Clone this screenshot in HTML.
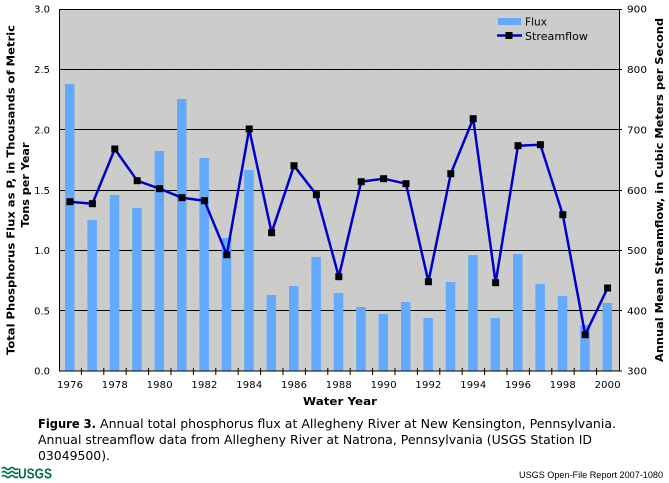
<!DOCTYPE html>
<html><head><meta charset="utf-8"><style>
html,body{margin:0;padding:0;background:#fff;}
svg{display:block;}
</style></head><body>
<svg width="669" height="483" viewBox="0 0 669 483" xmlns="http://www.w3.org/2000/svg">
<rect x="0" y="0" width="669" height="483" fill="#ffffff"/>
<!-- plot area -->
<rect x="59" y="9" width="560" height="362" fill="#cccdcb"/>
<g stroke="#b0b0b0" stroke-width="1" stroke-dasharray="1,10">
<line x1="81.4" y1="9" x2="81.4" y2="371"/><line x1="103.8" y1="9" x2="103.8" y2="371"/><line x1="126.2" y1="9" x2="126.2" y2="371"/><line x1="148.6" y1="9" x2="148.6" y2="371"/><line x1="171" y1="9" x2="171" y2="371"/><line x1="193.4" y1="9" x2="193.4" y2="371"/><line x1="215.8" y1="9" x2="215.8" y2="371"/><line x1="238.2" y1="9" x2="238.2" y2="371"/><line x1="260.6" y1="9" x2="260.6" y2="371"/><line x1="283" y1="9" x2="283" y2="371"/><line x1="305.4" y1="9" x2="305.4" y2="371"/><line x1="327.8" y1="9" x2="327.8" y2="371"/><line x1="350.2" y1="9" x2="350.2" y2="371"/><line x1="372.6" y1="9" x2="372.6" y2="371"/><line x1="395" y1="9" x2="395" y2="371"/><line x1="417.4" y1="9" x2="417.4" y2="371"/><line x1="439.8" y1="9" x2="439.8" y2="371"/><line x1="462.2" y1="9" x2="462.2" y2="371"/><line x1="484.6" y1="9" x2="484.6" y2="371"/><line x1="507" y1="9" x2="507" y2="371"/><line x1="529.4" y1="9" x2="529.4" y2="371"/><line x1="551.8" y1="9" x2="551.8" y2="371"/><line x1="574.2" y1="9" x2="574.2" y2="371"/><line x1="596.6" y1="9" x2="596.6" y2="371"/>
</g>
<!-- gridlines -->
<g stroke="#000" stroke-width="1">
<line x1="59" y1="69.5" x2="622" y2="69.5"/>
<line x1="59" y1="129.5" x2="622" y2="129.5"/>
<line x1="59" y1="190.5" x2="622" y2="190.5"/>
<line x1="59" y1="250.5" x2="622" y2="250.5"/>
<line x1="59" y1="310.5" x2="622" y2="310.5"/>
</g>
<!-- bars -->
<g fill="#63a9fd">
<rect x="65" y="84" width="9.5" height="287"/>
<rect x="87.4" y="220" width="9.5" height="151"/>
<rect x="109.8" y="195" width="9.5" height="176"/>
<rect x="132.2" y="208" width="9.5" height="163"/>
<rect x="154.6" y="151" width="9.5" height="220"/>
<rect x="177" y="99" width="9.5" height="272"/>
<rect x="199.4" y="158" width="9.5" height="213"/>
<rect x="221.8" y="238" width="9.5" height="133"/>
<rect x="244.2" y="170" width="9.5" height="201"/>
<rect x="266.6" y="295" width="9.5" height="76"/>
<rect x="289" y="286" width="9.5" height="85"/>
<rect x="311.4" y="257" width="9.5" height="114"/>
<rect x="333.8" y="293" width="9.5" height="78"/>
<rect x="356.2" y="307" width="9.5" height="64"/>
<rect x="378.6" y="314" width="9.5" height="57"/>
<rect x="401" y="302" width="9.5" height="69"/>
<rect x="423.4" y="318" width="9.5" height="53"/>
<rect x="445.8" y="282" width="9.5" height="89"/>
<rect x="468.2" y="255" width="9.5" height="116"/>
<rect x="490.6" y="318" width="9.5" height="53"/>
<rect x="513" y="254" width="9.5" height="117"/>
<rect x="535.4" y="284" width="9.5" height="87"/>
<rect x="557.8" y="296" width="9.5" height="75"/>
<rect x="580.2" y="325" width="9.5" height="46"/>
<rect x="602.6" y="303" width="9.5" height="68"/>
</g>
<!-- border -->
<rect x="59.5" y="9.5" width="560" height="361.5" fill="none" stroke="#000" stroke-width="1"/>
<line x1="619" y1="9.5" x2="622" y2="9.5" stroke="#000"/>
<line x1="619" y1="371" x2="622" y2="371" stroke="#000"/>
<!-- x ticks -->
<g stroke="#000" stroke-width="1">
<line x1="81.4" y1="368" x2="81.4" y2="375"/><line x1="103.8" y1="368" x2="103.8" y2="375"/><line x1="126.2" y1="368" x2="126.2" y2="375"/><line x1="148.6" y1="368" x2="148.6" y2="375"/><line x1="171" y1="368" x2="171" y2="375"/><line x1="193.4" y1="368" x2="193.4" y2="375"/><line x1="215.8" y1="368" x2="215.8" y2="375"/><line x1="238.2" y1="368" x2="238.2" y2="375"/><line x1="260.6" y1="368" x2="260.6" y2="375"/><line x1="283" y1="368" x2="283" y2="375"/><line x1="305.4" y1="368" x2="305.4" y2="375"/><line x1="327.8" y1="368" x2="327.8" y2="375"/><line x1="350.2" y1="368" x2="350.2" y2="375"/><line x1="372.6" y1="368" x2="372.6" y2="375"/><line x1="395" y1="368" x2="395" y2="375"/><line x1="417.4" y1="368" x2="417.4" y2="375"/><line x1="439.8" y1="368" x2="439.8" y2="375"/><line x1="462.2" y1="368" x2="462.2" y2="375"/><line x1="484.6" y1="368" x2="484.6" y2="375"/><line x1="507" y1="368" x2="507" y2="375"/><line x1="529.4" y1="368" x2="529.4" y2="375"/><line x1="551.8" y1="368" x2="551.8" y2="375"/><line x1="574.2" y1="368" x2="574.2" y2="375"/><line x1="596.6" y1="368" x2="596.6" y2="375"/>
</g>
<!-- streamflow line -->
<polyline fill="none" stroke="#0000cc" stroke-width="2.5" stroke-linejoin="round" points="70,201.7 92.4,203.7 114.8,149 137.2,180.7 159.6,188.7 182,197.7 204.4,200.7 226.8,254.7 249.2,129 271.6,232.7 294,165.7 316.4,194.7 338.8,276.7 361.2,181.7 383.6,178.7 406,183.7 428.4,281.7 450.8,173.7 473.2,118.7 495.6,282.7 518,145.7 540.4,144.7 562.8,214.7 585.2,334.7 607.6,288"/>
<g fill="#000">
<rect x="66.5" y="198.2" width="7" height="7"/><rect x="88.9" y="200.2" width="7" height="7"/><rect x="111.3" y="145.5" width="7" height="7"/><rect x="133.7" y="177.2" width="7" height="7"/><rect x="156.1" y="185.2" width="7" height="7"/><rect x="178.5" y="194.2" width="7" height="7"/><rect x="200.9" y="197.2" width="7" height="7"/><rect x="223.3" y="251.2" width="7" height="7"/><rect x="245.7" y="125.5" width="7" height="7"/><rect x="268.1" y="229.2" width="7" height="7"/><rect x="290.5" y="162.2" width="7" height="7"/><rect x="312.9" y="191.2" width="7" height="7"/><rect x="335.3" y="273.2" width="7" height="7"/><rect x="357.7" y="178.2" width="7" height="7"/><rect x="380.1" y="175.2" width="7" height="7"/><rect x="402.5" y="180.2" width="7" height="7"/><rect x="424.9" y="278.2" width="7" height="7"/><rect x="447.3" y="170.2" width="7" height="7"/><rect x="469.7" y="115.2" width="7" height="7"/><rect x="492.1" y="279.2" width="7" height="7"/><rect x="514.5" y="142.2" width="7" height="7"/><rect x="536.9" y="141.2" width="7" height="7"/><rect x="559.3" y="211.2" width="7" height="7"/><rect x="581.7" y="331.2" width="7" height="7"/><rect x="604.1" y="284.5" width="7" height="7"/>
</g>
<!-- legend -->
<rect x="498" y="18" width="23" height="7" fill="#63a9fd"/>
<line x1="497" y1="35.5" x2="522" y2="35.5" stroke="#0000cc" stroke-width="2.5"/>
<rect x="505.5" y="32" width="7" height="7" fill="#000"/>
<g font-family="'DejaVu Sans','Liberation Sans',sans-serif" font-size="11" fill="#000">
<text x="525" y="25.5" textLength="22" lengthAdjust="spacingAndGlyphs">Flux</text>
<text x="525" y="40" textLength="63" lengthAdjust="spacingAndGlyphs">Streamflow</text>
</g>
<!-- left tick labels -->
<g font-family="'DejaVu Sans','Liberation Sans',sans-serif" font-size="10" fill="#000" text-anchor="end">
<text x="50" y="12.5">3.0</text>
<text x="50" y="73">2.5</text>
<text x="50" y="133.5">2.0</text>
<text x="50" y="194">1.5</text>
<text x="50" y="254">1.0</text>
<text x="50" y="314.5">0.5</text>
<text x="50" y="374.5">0.0</text>
</g>
<!-- right tick labels -->
<g font-family="'DejaVu Sans','Liberation Sans',sans-serif" font-size="10" fill="#000">
<text x="627" y="12.5" textLength="20" lengthAdjust="spacingAndGlyphs">900</text>
<text x="627" y="73" textLength="20" lengthAdjust="spacingAndGlyphs">800</text>
<text x="627" y="133.5" textLength="20" lengthAdjust="spacingAndGlyphs">700</text>
<text x="627" y="194" textLength="20" lengthAdjust="spacingAndGlyphs">600</text>
<text x="627" y="254" textLength="20" lengthAdjust="spacingAndGlyphs">500</text>
<text x="627" y="314.5" textLength="20" lengthAdjust="spacingAndGlyphs">400</text>
<text x="627" y="374.5" textLength="20" lengthAdjust="spacingAndGlyphs">300</text>
</g>
<!-- x labels -->
<g font-family="'DejaVu Sans','Liberation Sans',sans-serif" font-size="10" fill="#000" text-anchor="middle">
<text x="70" y="388" textLength="26" lengthAdjust="spacing">1976</text>
<text x="114.8" y="388" textLength="26" lengthAdjust="spacing">1978</text>
<text x="159.6" y="388" textLength="26" lengthAdjust="spacing">1980</text>
<text x="204.4" y="388" textLength="26" lengthAdjust="spacing">1982</text>
<text x="249.2" y="388" textLength="26" lengthAdjust="spacing">1984</text>
<text x="294" y="388" textLength="26" lengthAdjust="spacing">1986</text>
<text x="338.8" y="388" textLength="26" lengthAdjust="spacing">1988</text>
<text x="383.6" y="388" textLength="26" lengthAdjust="spacing">1990</text>
<text x="428.4" y="388" textLength="26" lengthAdjust="spacing">1992</text>
<text x="473.2" y="388" textLength="26" lengthAdjust="spacing">1994</text>
<text x="518" y="388" textLength="26" lengthAdjust="spacing">1996</text>
<text x="562.8" y="388" textLength="26" lengthAdjust="spacing">1998</text>
<text x="607.6" y="388" textLength="26" lengthAdjust="spacing">2000</text>
</g>
<!-- axis titles -->
<g font-family="'DejaVu Sans','Liberation Sans',sans-serif" font-size="11" font-weight="bold" fill="#000" text-anchor="middle">
<text x="340" y="405" textLength="74" lengthAdjust="spacingAndGlyphs">Water Year</text>
<text transform="translate(14.5,190) rotate(-90)" x="0" y="0" textLength="330" lengthAdjust="spacingAndGlyphs">Total Phosphorus Flux as P, in Thousands of Metric</text>
<text transform="translate(29,185) rotate(-90)" x="0" y="0" textLength="85" lengthAdjust="spacingAndGlyphs">Tons per Year</text>
<text transform="translate(663,190) rotate(-90)" x="0" y="0" textLength="344" lengthAdjust="spacingAndGlyphs">Annual Mean Streamflow, in Cubic Meters per Second</text>
</g>
<!-- caption -->
<g font-family="'DejaVu Sans','Liberation Sans',sans-serif" font-size="12" fill="#000">
<text x="38" y="428" font-weight="bold" textLength="58" lengthAdjust="spacingAndGlyphs">Figure 3.</text>
<text x="100" y="428" textLength="516" lengthAdjust="spacingAndGlyphs">Annual total phosphorus flux at Allegheny River at New Kensington, Pennsylvania.</text>
<text x="38" y="444" textLength="554" lengthAdjust="spacingAndGlyphs">Annual streamflow data from Allegheny River at Natrona, Pennsylvania (USGS Station ID</text>
<text x="38" y="460" textLength="72" lengthAdjust="spacingAndGlyphs">03049500).</text>
</g>
<!-- USGS logo -->
<g stroke="#00704a" stroke-width="1.6" fill="none">
<path d="M2,468.5 q2,-2 4,0 t4,0 t4,0 t4,0"/>
<path d="M2,472.5 q2,-2 4,0 t4,0 t4,0 t4,0"/>
<path d="M2,476.5 q2,-2 4,0 t4,0 t4,0 t4,0"/>
</g>
<text x="18" y="478.5" font-family="'Liberation Sans',sans-serif" font-size="15" font-weight="bold" fill="#00704a" textLength="34" lengthAdjust="spacingAndGlyphs">USGS</text>
<text x="519" y="478" font-family="'Liberation Sans',sans-serif" font-size="9.5" fill="#000" textLength="144" lengthAdjust="spacingAndGlyphs">USGS Open-File Report 2007-1080</text>
</svg>
</body></html>
